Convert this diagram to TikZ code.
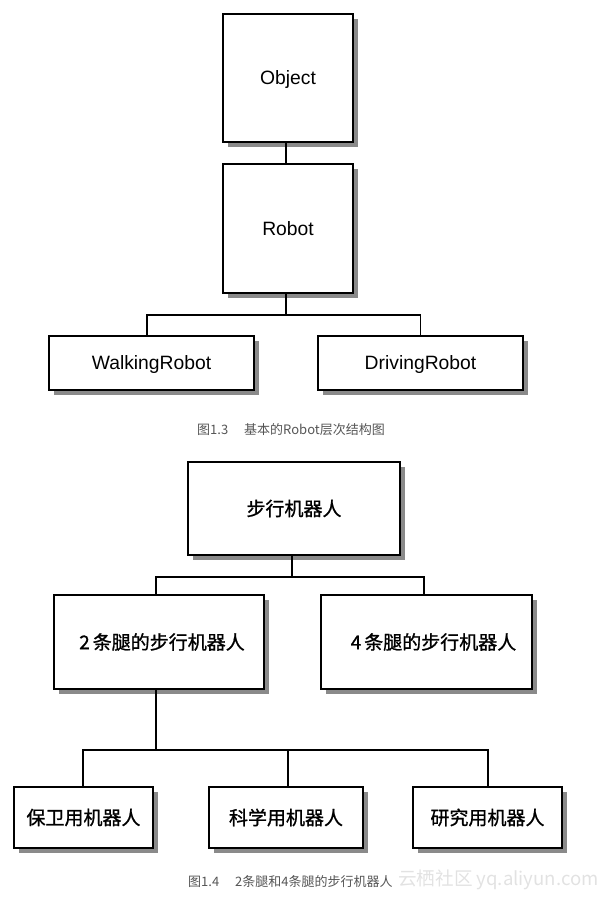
\documentclass[tikz,border=0pt]{standalone}
\usepackage{fontspec}
\setmainfont{Liberation Sans}
\newfontfamily\cjk{Noto Sans CJK SC}
\newfontfamily\cjkbold[FakeBold=1]{Noto Sans CJK SC}
\usetikzlibrary{shadows}
\definecolor{shadowgray}{HTML}{8A8A8A}
\definecolor{captiongray}{HTML}{555555}
\definecolor{wmgray}{HTML}{E2E2E2}
\tikzset{
  box/.style={draw=black, line width=1.8pt, fill=white, inner sep=0pt,
    drop shadow={shadow xshift=5pt, shadow yshift=-5pt, fill=shadowgray, opacity=1}},
  latinlabel/.style={font=\fontsize{19.3}{22}\selectfont, text depth=0pt},
  cjklabel/.style={font=\cjkbold\fontsize{19}{22}\selectfont},
  conn/.style={draw=black, line width=1.8pt},
  caption/.style={font=\cjk\fontsize{13}{15}\selectfont, text=captiongray, anchor=west, inner sep=0pt},
}
\begin{document}
\begin{tikzpicture}[x=1pt,y=-1pt]
\useasboundingbox (0,0) rectangle (612,897);

% ---------- Figure 1.3 ----------
\node[box, latinlabel, minimum width=130pt, minimum height=128pt] (obj) at (288,78) {Object};
\node[box, latinlabel, minimum width=130pt, minimum height=129pt] (robot) at (288,228.5) {Robot};
\node[box, latinlabel, minimum width=205pt, minimum height=54pt] (walk) at (151.5,363) {WalkingRobot};
\node[box, latinlabel, minimum width=205pt, minimum height=54pt] (drive) at (420.5,363) {DrivingRobot};
\coordinate (bus1) at (286,315);

\draw[conn] ([xshift=-2pt]obj.south) -- ([xshift=-2pt]robot.north);
\draw[conn] ([xshift=-2pt]robot.south) -- (bus1);
\draw[conn] ([xshift=-4.5pt]walk.north) |- (bus1) -| (drive.north);

\node[caption] (cap1) at (197,430) {图1.3\hspace{16pt}基本的Robot层次结构图};

% ---------- Figure 1.4 ----------
\node[box, cjklabel, minimum width=212pt, minimum height=93pt] (root) at (294,508.5) {步行机器人};
\node[box, minimum width=210pt, minimum height=94pt] (leg2) at (159,642) {};
\node[cjklabel, inner sep=0pt] (leg2t) at (162,642) {2\hspace{3pt}条腿的步行机器人};
\node[box, minimum width=211pt, minimum height=94pt] (leg4) at (426.5,642) {};
\node[cjklabel, inner sep=0pt] (leg4t) at (433.5,642) {4\hspace{3pt}条腿的步行机器人};
\node[box, cjklabel, minimum width=139pt, minimum height=61pt] (guard) at (83.5,817.5) {保卫用机器人};
\node[box, cjklabel, minimum width=154pt, minimum height=61pt] (sci) at (286,817.5) {科学用机器人};
\node[box, cjklabel, minimum width=149pt, minimum height=61pt] (res) at (487.5,817.5) {研究用机器人};
\coordinate (bus2) at (292,577);
\coordinate (bus3) at (156,750);

\draw[conn] ([xshift=-2pt]root.south) -- (bus2);
\draw[conn] ([xshift=-3pt]leg2.north) |- (bus2) -| ([xshift=-2.5pt]leg4.north);
\draw[conn] ([xshift=-3pt]leg2.south) -- (bus3);
\draw[conn] ([xshift=-0.5pt]guard.north) |- (bus3) -| ([xshift=0.5pt]res.north);
\draw[conn] ([xshift=2pt]sci.north) -- ([xshift=2pt]sci.north |- bus3);

\node[caption] (cap2) at (188,882) {图1.4\hspace{16pt}2条腿和4条腿的步行机器人};
\node[font=\cjk\fontsize{18.6}{21}\selectfont, text=wmgray, anchor=west, inner sep=0pt] (wm) at (398,880) {云栖社区 yq.aliyun.com};
\end{tikzpicture}
\end{document}
